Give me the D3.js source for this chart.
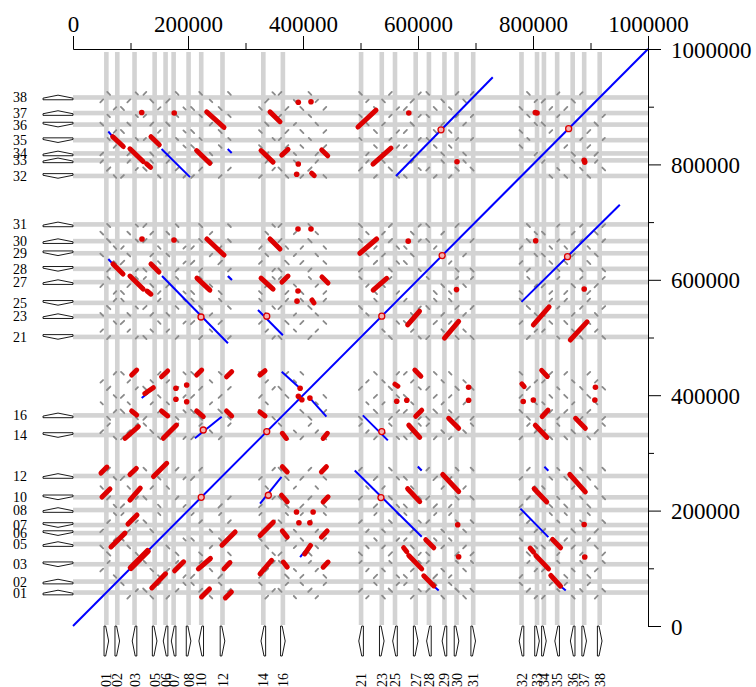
<!DOCTYPE html>
<html>
<head>
<meta charset="utf-8">
<script src="https://cdn.jsdelivr.net/npm/d3@7"></script>
<style>
  body { margin: 0; background: #fff; }
  text { font-family: "Liberation Serif", "DejaVu Serif", serif; }
</style>
</head>
<body>
<script>
// genes: name, midpoint (bp), strand
const geneNames  = ["01","02","03","05","06","07","08","10","12","14","16","21","23","25","27","28","29","30","31","32","33","34","35","36","37","38"];
const geneMid    = [58000,77000,107000,142000,161000,175000,201000,223000,260000,331000,365000,501000,537000,560000,596000,619000,646000,667000,696000,780000,807000,819000,842000,869000,889000,916000];
const geneStrand = [1,1,-1,1,-1,-1,1,-1,1,-1,1,-1,1,-1,1,-1,-1,1,1,-1,1,1,-1,-1,1,1];
const geneLen = 8000;

// repeat copies: position, strand, family, length (pairwise matches give the grey dots)
const repeatSites = [
  [50000,1,0,5000],[62000,-1,2,6000],[73000,-1,1,4500],[86000,1,1,6500],[97000,1,0,5000],[111000,-1,2,4000],
  [125000,1,2,6000],[137000,-1,0,5500],[150000,-1,1,4500],[165000,1,0,6500],[181000,-1,2,5000],[194000,1,1,4000],
  [208000,1,1,6000],[222000,-1,2,5500],[240000,-1,0,4500],[256000,1,1,6500],[272000,-1,2,5000],
  [326000,1,1,5000],[337000,1,0,6000],[349000,-1,2,4500],[360000,1,2,5500],[372000,-1,1,6500],
  [386000,-1,0,4000],[398000,1,1,5500],[412000,-1,2,6000],[424000,1,0,4500],[438000,-1,1,5000],
  [500000,-1,2,5500],[512000,1,0,4500],[526000,1,1,6000],[540000,-1,0,5000],[552000,1,2,6500],
  [565000,-1,1,4500],[578000,-1,1,5500],[590000,1,0,6000],[603000,1,2,4000],[617000,-1,2,5500],
  [630000,1,1,6500],[643000,-1,0,5000],[656000,1,1,4500],[668000,1,2,6000],[681000,-1,0,5000],[694000,1,2,5500],
  [779000,1,1,5000],[792000,-1,2,6000],[805000,1,0,4500],[818000,1,0,6500],[831000,-1,1,5000],[844000,1,2,4000],
  [857000,-1,1,5500],[870000,-1,0,6000],[884000,1,2,4500],[897000,-1,1,5500],[910000,1,0,6000],[923000,1,2,5000]
];

// strong hits (upper triangle; mirrored for the self comparison)  x1,y1,x2,y2
const redHits = [
  // A x D
  [69000,848000,87500,831000],[99000,827000,122000,805000],[128000,801000,135000,795000],
  [135600,848000,150000,834000],[232500,891000,262600,864000],[215000,824000,238000,802000],
  // B x D
  [342600,891000,360000,874000],[327000,824000,348000,804000],[363000,816000,374000,826000],
  [432500,825000,443000,815000],[415000,784700,419600,780600],
  // C x D, C x C
  [495600,864800,527000,894000],[521700,800600,553000,828000],
  [499000,646000,528000,670700],[522000,582000,545500,602600],
  // A x B
  [102000,435000,110800,443600],[154000,432000,164700,442000],[215000,435000,223800,443600],
  [267000,432000,276000,440700],[125000,403000,139600,413000],
  [102000,372600,110800,365700],[154000,372600,164700,364000],[215000,372600,226600,362700],
  [267000,372600,276000,364000],[90400,325300,113600,345400],[157000,325300,180000,348300],
  // B x B
  [325000,435000,334000,442400],[325000,371000,334000,364000],
  // A x C
  [69500,627500,87000,610000],[99000,606500,122000,584000],[128700,580500,135600,575000],
  [135600,627500,149500,613500],[233000,670700,262600,643000],[215600,603000,238000,582000],
  // B x C
  [342600,670700,360000,653300],[327000,603000,348000,584000],[363500,596000,374000,606500],
  [433000,605000,443500,594500],[415600,565000,419000,560000],
  // A x A
  [66000,137000,90400,161000],[48700,265000,59000,275500],[99000,262600,110000,273000],
  [50400,223500,64300,237400],[99000,218000,117000,239000],[95600,176700,111300,192400],
  [101000,99500,131000,129500],[140000,259000,163000,282000]
];
const redDots = [
  [119500,890000],[176000,889000],[391800,907600],[413900,908600],[391800,800600],[389000,783000],
  [584000,889000],[667800,804700],[807000,889000],[890000,804000],[583000,667000],
  [179000,412000],[197700,417600],[179000,392900],[197700,388700],[395000,412000],[392000,398000],
  [120000,670700],[175600,669000],[391300,688000],[413900,688000],[391300,580500],[389600,563000]
];
const redRings = [
  [223000,223000],[537000,537000],[642000,642000],[862000,862000],[337000,337000],
  [640000,860000],[222600,535500],[226600,339700],[337000,537000]
];
const blueHits = [
  [0,0,1000000,1000000],
  [561700,780000,730000,951000],
  [61400,857000,69000,848000],[154000,826700,203500,778000],[269000,826700,276000,819800],
  [61400,636000,69000,627500],[154800,606500,269500,490000],[269500,606500,276500,599600],
  [119500,395000,130400,403800],[212000,325300,258600,362700],
  [363000,440700,394800,412000],
  [321700,547600,365000,504000]
];

const xTicks = [0,200000,400000,600000,800000,1000000];
const minorTicks = [100000,300000,500000,700000,900000];

const svg = d3.select("body").append("svg").attr("width", 756).attr("height", 687);
const x = d3.scaleLinear().domain([0, 1000000]).range([73, 648]);
const y = d3.scaleLinear().domain([0, 1000000]).range([626, 49]);

// grey gene bands
const genes = geneNames.map((n, i) => ({ name: n, mid: geneMid[i], s: geneMid[i] - geneLen / 2, e: geneMid[i] + geneLen / 2, strand: geneStrand[i] }));
svg.append("g").selectAll("rect").data(genes).enter().append("rect")
  .attr("x", d => x(d.s)).attr("width", d => x(d.e) - x(d.s))
  .attr("y", 52).attr("height", 625 - 52).attr("fill", "#d3d3d3");
svg.append("g").selectAll("rect").data(genes).enter().append("rect")
  .attr("y", d => y(d.e)).attr("height", d => y(d.s) - y(d.e))
  .attr("x", 73).attr("width", 648 - 73).attr("fill", "#d3d3d3");

// grey repeat dots
const grey = [];
repeatSites.forEach(a => repeatSites.forEach(b => {
  if (a === b || a[2] !== b[2]) return;
  grey.push({ px: a[0], py: b[0], o: a[1] * b[1], len: Math.min(a[3], b[3]) });
}));
svg.append("g").selectAll("line").data(grey).enter().append("line")
  .attr("x1", d => x(d.px - d.len / 2)).attr("x2", d => x(d.px + d.len / 2))
  .attr("y1", d => y(d.py - d.o * d.len / 2)).attr("y2", d => y(d.py + d.o * d.len / 2))
  .attr("stroke", "#8a8a8a").attr("stroke-width", 1.8).attr("stroke-linecap", "round");

function mirror(list) {
  const out = [];
  list.forEach(h => { out.push(h); if (!(h[0] === h[1] && h[2] === h[3])) out.push([h[1], h[0], h[3], h[2]]); });
  return out;
}

svg.append("g").selectAll("line").data(mirror(blueHits)).enter().append("line")
  .attr("x1", d => x(d[0])).attr("y1", d => y(d[1])).attr("x2", d => x(d[2])).attr("y2", d => y(d[3]))
  .attr("stroke", "#0000ff").attr("stroke-width", 2);

svg.append("g").selectAll("line").data(mirror(redHits)).enter().append("line")
  .attr("x1", d => x(d[0])).attr("y1", d => y(d[1])).attr("x2", d => x(d[2])).attr("y2", d => y(d[3]))
  .attr("stroke", "#dd0000").attr("stroke-width", 5).attr("stroke-linecap", "round");

const dots = [];
redDots.forEach(p => { dots.push(p); dots.push([p[1], p[0]]); });
svg.append("g").selectAll("circle").data(dots).enter().append("circle")
  .attr("cx", d => x(d[0])).attr("cy", d => y(d[1])).attr("r", 2.8).attr("fill", "#dd0000");

const rings = [];
redRings.forEach(p => { rings.push(p); if (p[0] !== p[1]) rings.push([p[1], p[0]]); });
svg.append("g").selectAll("circle").data(rings).enter().append("circle")
  .attr("cx", d => x(d[0])).attr("cy", d => y(d[1])).attr("r", 3)
  .attr("fill", "#f4b0b0").attr("stroke", "#dd0000").attr("stroke-width", 1.3);

// gene arrows, left (along y) and bottom (along x)
function arrowY(d) {
  const x0 = 43, x1 = 73, xm = 58;
  const a = d.strand > 0 ? d.s : d.e, b = d.strand > 0 ? d.e : d.s;
  const k = a + (b - a) * 0.35;
  return [[x0, y(a)], [x1, y(a)], [x1, y(k)], [xm, y(b)], [x0, y(k)]];
}
function arrowX(d) {
  const y0 = 626, y1 = 656, ym = 641;
  const a = d.strand > 0 ? d.s : d.e, b = d.strand > 0 ? d.e : d.s;
  const k = a + (b - a) * 0.35;
  return [[x(a), y0], [x(a), y1], [x(k), y1], [x(b), ym], [x(k), y0]];
}
svg.append("g").selectAll("path").data(genes).enter().append("path")
  .attr("d", d => "M" + arrowY(d).join("L") + "Z")
  .attr("fill", "#fff").attr("stroke", "#000").attr("stroke-width", 0.9);
svg.append("g").selectAll("path").data(genes).enter().append("path")
  .attr("d", d => "M" + arrowX(d).join("L") + "Z")
  .attr("fill", "#fff").attr("stroke", "#000").attr("stroke-width", 0.9);

svg.append("g").selectAll("text").data(genes).enter().append("text")
  .attr("x", 27).attr("y", d => y(d.mid) + 5)
  .attr("text-anchor", "end").attr("font-size", 14).text(d => d.name);
svg.append("g").selectAll("text").data(genes).enter().append("text")
  .attr("transform", d => `translate(${x(d.mid) + 5},687) rotate(-90)`)
  .attr("text-anchor", "start").attr("font-size", 14).text(d => d.name);

// axes
const topAxis = svg.append("g").attr("transform", "translate(0,49)")
  .call(d3.axisTop(x).tickValues(xTicks).tickFormat(d3.format("d")).tickSize(13).tickSizeOuter(0).tickPadding(4));
svg.append("g").attr("transform", "translate(0,49)")
  .call(d3.axisTop(x).tickValues(minorTicks).tickFormat("").tickSize(6).tickSizeOuter(0));
const rightAxis = svg.append("g").attr("transform", "translate(648,0)")
  .call(d3.axisRight(y).tickValues(xTicks).tickFormat(d3.format("d")).tickSize(13).tickSizeOuter(0).tickPadding(10));
svg.append("g").attr("transform", "translate(648,0)")
  .call(d3.axisRight(y).tickValues(minorTicks).tickFormat("").tickSize(6).tickSizeOuter(0));
svg.selectAll(".tick text").attr("font-family", "Liberation Serif").attr("font-size", 23).attr("fill", "#000");
rightAxis.selectAll(".tick text").attr("dy", "0.35em");
</script>
</body>
</html>
